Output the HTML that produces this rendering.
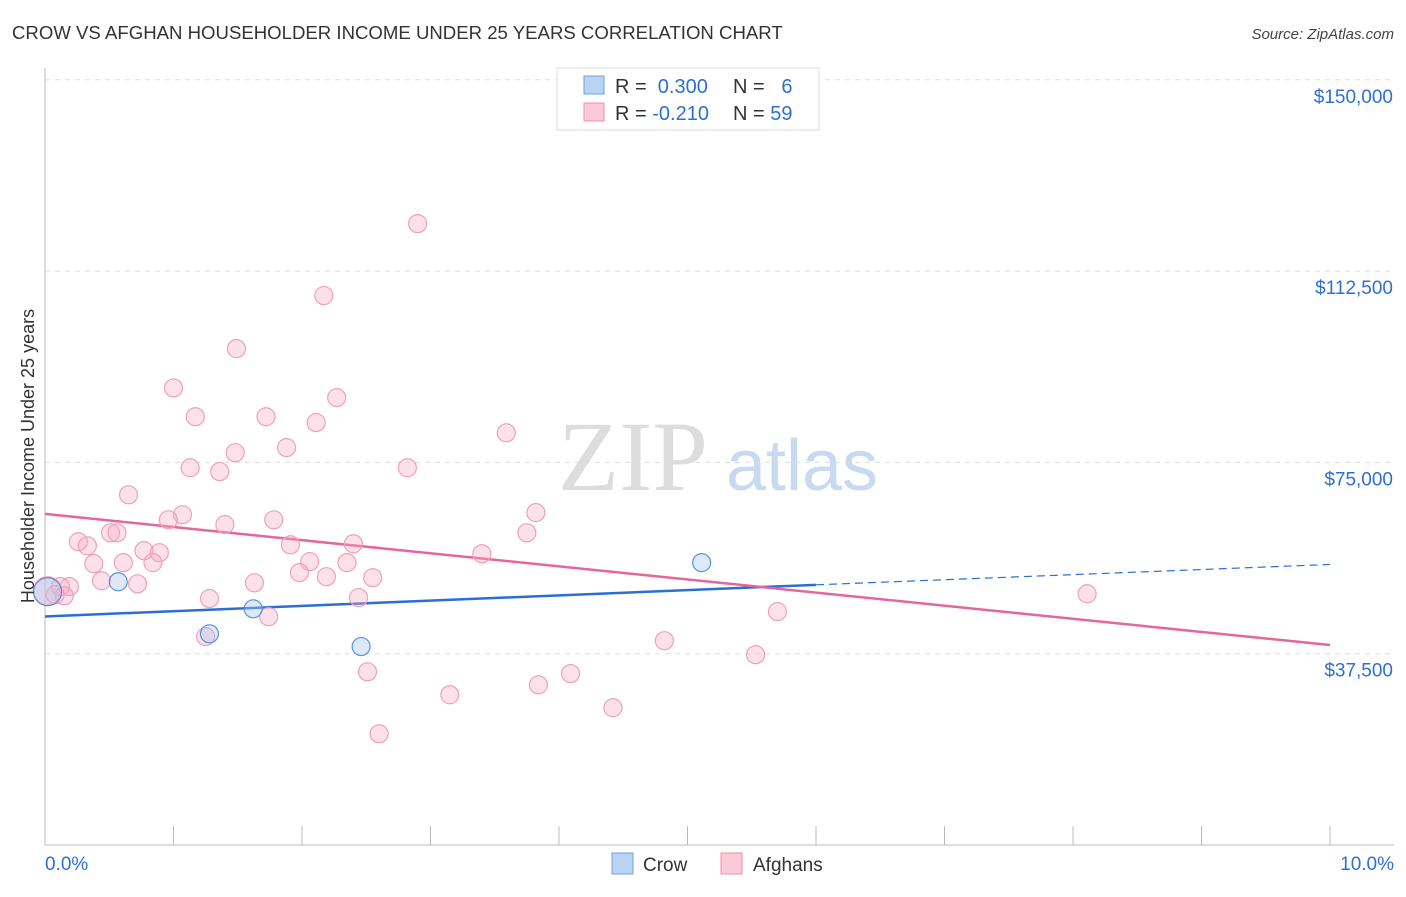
<!DOCTYPE html>
<html><head><meta charset="utf-8"><style>
body{margin:0;background:#fff;font-family:"Liberation Sans",sans-serif}
</style></head><body>
<svg id="chart" width="1406" height="892" xmlns="http://www.w3.org/2000/svg" font-family="Liberation Sans, sans-serif">
<text x="12" y="39" font-size="18.6" fill="#333">CROW VS AFGHAN HOUSEHOLDER INCOME UNDER 25 YEARS CORRELATION CHART</text>
<text x="1394" y="39" font-size="15" fill="#444" text-anchor="end" font-style="italic">Source: ZipAtlas.com</text>
<g>
<text x="633" y="490" font-size="100" fill="#ddd" text-anchor="middle" font-family="Liberation Serif, serif">ZIP</text>
<text x="802" y="490" font-size="72" fill="#c8daf0" text-anchor="middle">atlas</text>
</g>
<g id="grid"></g><g id="axes"></g><g id="lines"></g><g id="pts"></g>
<text transform="translate(34,456) rotate(-90)" font-size="18" fill="#333" text-anchor="middle">Householder Income Under 25 years</text>
<g>
<rect x="557" y="68" width="262" height="62" fill="#fff" stroke="#ddd"/>
<rect x="584" y="76" width="20" height="18" fill="#b9d3f5" stroke="#6fa0e0"/>
<rect x="584" y="103" width="20" height="18" fill="#fbc9d8" stroke="#ec8fae"/>
<text x="615" y="93" font-size="20" fill="#333">R = <tspan fill="#2f6fd0">&#160;0.300</tspan></text>
<text x="733" y="93" font-size="20" fill="#333">N = <tspan fill="#2f6fd0">&#160;&#160;6</tspan></text>
<text x="615" y="120" font-size="20" fill="#333">R = <tspan fill="#2f6fd0">-0.210</tspan></text>
<text x="733" y="120" font-size="20" fill="#333">N = <tspan fill="#2f6fd0">59</tspan></text>
</g>
<g>
<rect x="612" y="853" width="21" height="21" fill="#b9d3f5" stroke="#6fa0e0"/>
<text x="643" y="871" font-size="19" fill="#333">Crow</text>
<rect x="721" y="853" width="21" height="21" fill="#fbc9d8" stroke="#ec8fae"/>
<text x="753" y="871" font-size="19" fill="#333">Afghans</text>
</g>
</svg>
<script>
const yTicks=[37500,75000,112500,150000];
const yTickLabels=["$37,500","$75,000","$112,500","$150,000"];
const xTickLabels=["0.0%","10.0%"];
const crowX=[0.02,0.57,1.28,1.62,2.46,5.11];
const crowY=[49650,51600,41400,46300,38900,55350];
const afgX=[2.90,2.17,1.49,1.00,2.27,1.17,1.72,2.11,3.59,1.48,1.88,1.13,1.36,2.82,0.65,1.07,0.96,1.40,1.78,3.82,3.75,0.51,0.56,0.26,0.33,0.77,0.89,1.91,2.40,3.40,0.38,0.61,0.84,2.06,2.35,1.98,2.19,2.55,0.44,0.72,1.63,0.12,0.19,0.02,0.08,0.15,1.28,2.44,8.11,5.70,1.74,1.25,4.82,5.53,2.51,4.09,3.15,3.84,4.42,2.60];
const afgY=[121800,107700,97300,89600,87700,83950,83950,82800,80800,76900,77900,73950,73200,73950,68650,64750,63750,62800,63750,65150,61200,61200,61200,59450,58650,57700,57300,58850,59050,57100,55150,55350,55350,55550,55350,53400,52600,52400,51800,51200,51400,50650,50650,49850,49050,48850,48300,48500,49250,45750,44750,40850,40050,37300,33950,33600,29450,31400,26900,21800];
const crowFit=[[0,44800],[6,51000],[10,55000]];
const afgFit=[[0,64900],[10,39200]];
const NS="http://www.w3.org/2000/svg";
const X=v=>45+v*128.5, Y=v=>845-v*(191.3/37500);
function mk(t,a,p){const e=document.createElementNS(NS,t);for(const k in a)e.setAttribute(k,a[k]);document.getElementById(p).appendChild(e);return e;}
yTicks.forEach((t,i)=>{
 const g=mk('line',{x1:45,x2:1394,y1:Y(t),y2:Y(t),stroke:'#ddd','stroke-dasharray':'5,5'},'grid');
 
 
 const l=mk('text',{x:1393,y:Y(t)+23,'font-size':19,fill:'#2f6fd0','text-anchor':'end'},'axes');
 l.textContent=yTickLabels[i];
 
 
});
const ax=mk('line',{x1:45,x2:1394,y1:845,y2:845,stroke:'#bbb'},'axes');


const ay=mk('line',{x1:45,x2:45,y1:68,y2:845,stroke:'#bbb'},'axes');


for(let i=0;i<=10;i++){const t=mk('line',{x1:X(i),x2:X(i),y1:826,y2:845,stroke:'#bbb'},'axes');
 
 }
xTickLabels.forEach((s,i)=>{const t=mk('text',{x:i?1394:45,y:870,'font-size':19,fill:'#2f6fd0','text-anchor':i?'end':'start'},'axes');t.textContent=s;
 
 });
function pt(x,y,r,f,s,n){const c=mk('circle',{cx:X(x),cy:Y(y),r:r,fill:f,stroke:s,'stroke-width':1.2},'pts');
 
 }
afgX.forEach((x,i)=>pt(x,afgY[i],i==43?14:9,'rgba(248,170,195,0.35)','#efa0ba','afghans-point'));
crowX.forEach((x,i)=>pt(x,crowY[i],i==0?14:9,'rgba(170,200,240,0.4)','#5b92dc','crow-point'));
const c1=mk('line',{x1:X(crowFit[0][0]),y1:Y(crowFit[0][1]),x2:X(crowFit[1][0]),y2:Y(crowFit[1][1]),stroke:'#2a6fd4','stroke-width':2.5},'lines');


const c2=mk('line',{x1:X(crowFit[1][0]),y1:Y(crowFit[1][1]),x2:X(crowFit[2][0]),y2:Y(crowFit[2][1]),stroke:'#2a6fd4','stroke-width':1.2,'stroke-dasharray':'8,5'},'lines');


const a1=mk('line',{x1:X(afgFit[0][0]),y1:Y(afgFit[0][1]),x2:X(afgFit[1][0]),y2:Y(afgFit[1][1]),stroke:'#e5679a','stroke-width':2.5},'lines');


</script>
</body></html>
